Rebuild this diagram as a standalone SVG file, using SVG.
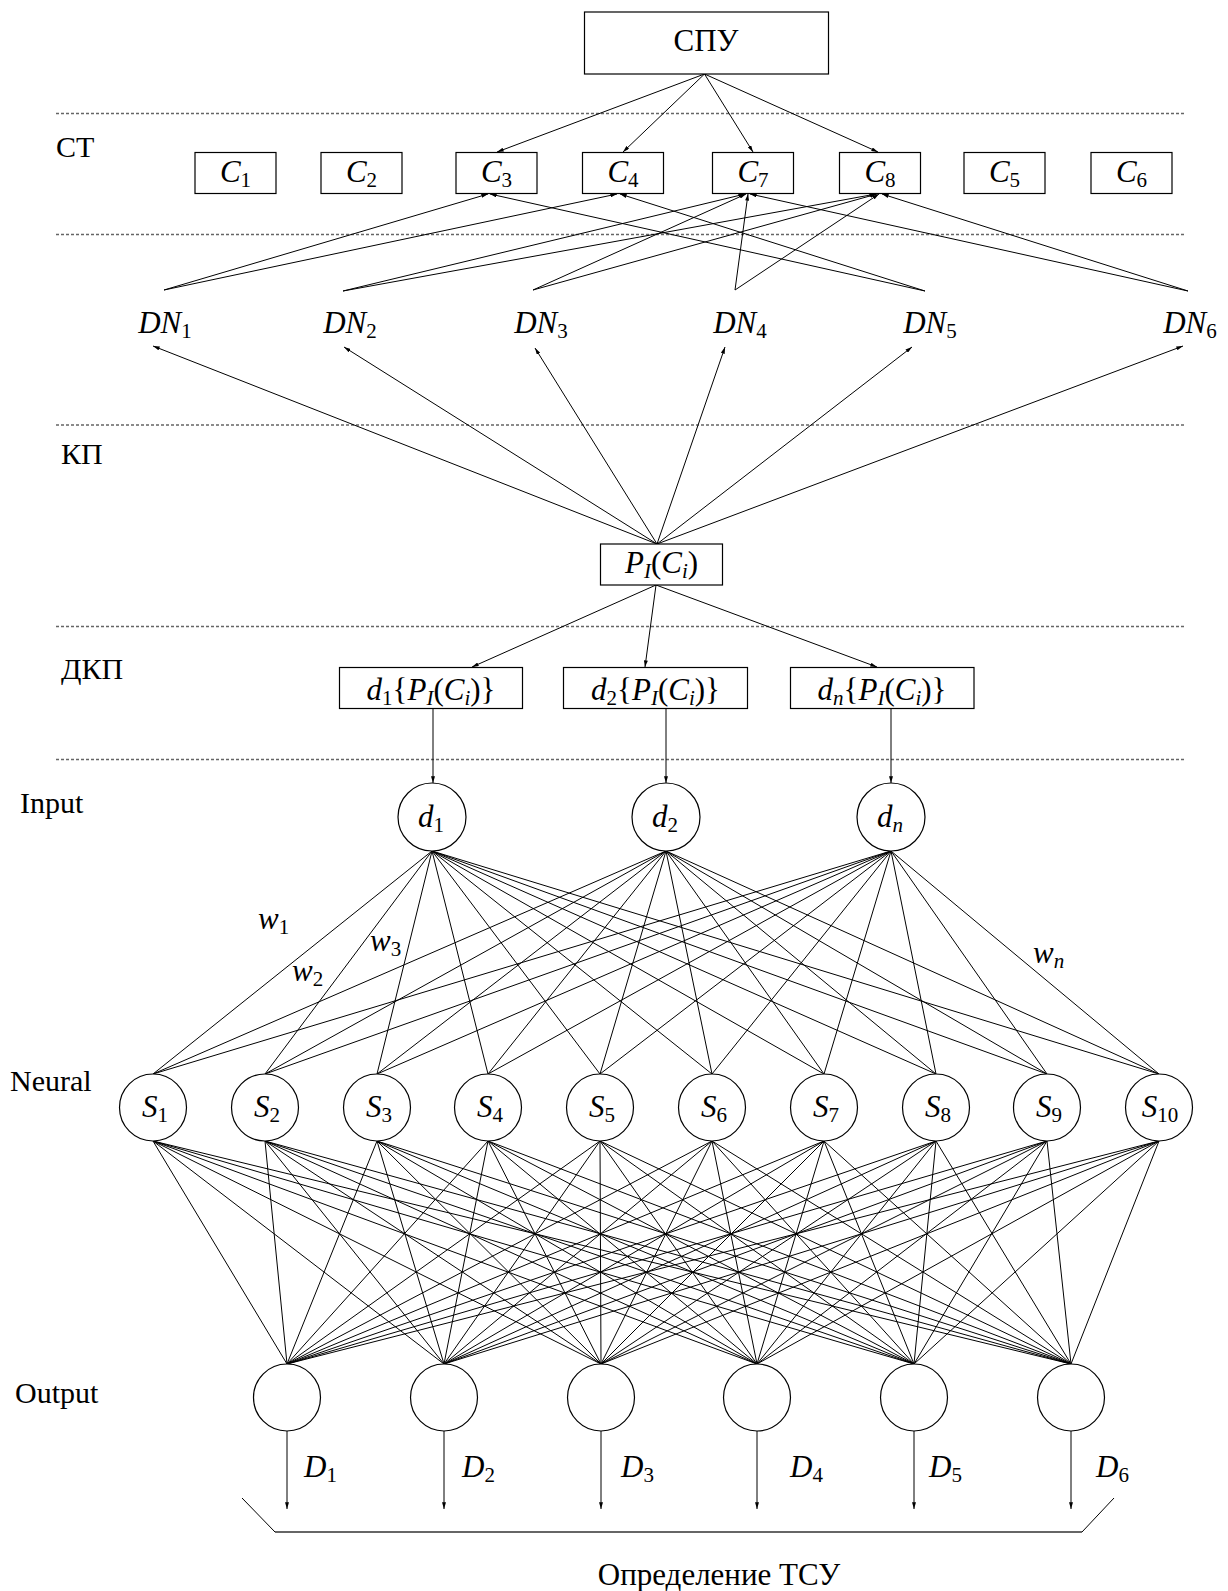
<svg xmlns="http://www.w3.org/2000/svg" width="1228" height="1591" viewBox="0 0 1228 1591">
<style>
.t{font-family:"Liberation Serif","Times New Roman",serif;font-size:31px;fill:#000}
.m{text-anchor:middle}
.i{font-style:italic}
.n{font-style:normal}
.s{font-size:21px;font-style:normal}
.si{font-size:21px;font-style:italic}
.box{fill:#fff;stroke:#000;stroke-width:1.2}
.circ{fill:#fff;stroke:#000;stroke-width:1.2}
.dash{stroke:#666;stroke-width:1.3;stroke-dasharray:3 2;fill:none}
.c line{stroke:#000;stroke-width:1}
.a{marker-end:url(#arr)}
</style>
<defs>
<marker id="arr" viewBox="0 0 10 6" refX="10" refY="3" markerWidth="7" markerHeight="4" orient="auto" markerUnits="userSpaceOnUse"><path d="M0,0 L10,3 L0,6 z" fill="#000"/></marker>
</defs>
<rect width="1228" height="1591" fill="#fff"/>
<g id="separators">
<line class="dash" x1="56" y1="113.5" x2="1186" y2="113.5"/>
<line class="dash" x1="56" y1="234.5" x2="1186" y2="234.5"/>
<line class="dash" x1="56" y1="425" x2="1186" y2="425"/>
<line class="dash" x1="56" y1="626.5" x2="1186" y2="626.5"/>
<line class="dash" x1="56" y1="759.5" x2="1186" y2="759.5"/>
</g>
<g id="layer-labels" class="t">
<text x="56" y="157" font-size="30">СТ</text>
<text x="61" y="464" font-size="30">КП</text>
<text x="61" y="679" font-size="30">ДКП</text>
<text x="20" y="813" font-size="30">Input</text>
<text x="10" y="1091" font-size="30">Neural</text>
<text x="15" y="1403" font-size="30">Output</text>
</g>
<g id="connectors" class="c">
<!-- SPU to C -->
<line class="a" x1="704.5" y1="74" x2="497" y2="152"/>
<line class="a" x1="704.5" y1="74" x2="623" y2="152"/>
<line class="a" x1="704.5" y1="74" x2="753" y2="152"/>
<line class="a" x1="704.5" y1="74" x2="878" y2="152"/>
<!-- DN to C -->
<line class="a" x1="164" y1="290" x2="488" y2="194"/>
<line class="a" x1="164" y1="290" x2="617" y2="194"/>
<line class="a" x1="925" y1="291" x2="490" y2="194"/>
<line class="a" x1="925" y1="291" x2="620" y2="194"/>
<line class="a" x1="343" y1="291" x2="745" y2="194"/>
<line class="a" x1="343" y1="291" x2="876" y2="194"/>
<line class="a" x1="533" y1="290" x2="746" y2="194"/>
<line class="a" x1="533" y1="290" x2="877" y2="194"/>
<line class="a" x1="735" y1="290" x2="748" y2="194"/>
<line class="a" x1="735" y1="290" x2="879" y2="194"/>
<line class="a" x1="1188" y1="291" x2="750" y2="194"/>
<line class="a" x1="1188" y1="291" x2="882" y2="194"/>
<!-- PI to DN -->
<line class="a" x1="657" y1="544" x2="153" y2="346"/>
<line class="a" x1="657" y1="544" x2="344" y2="347"/>
<line class="a" x1="657" y1="544" x2="535" y2="348"/>
<line class="a" x1="657" y1="544" x2="725" y2="347"/>
<line class="a" x1="657" y1="544" x2="912" y2="347"/>
<line class="a" x1="657" y1="544" x2="1183" y2="346"/>
<!-- PI to d boxes -->
<line class="a" x1="656" y1="585" x2="472" y2="667"/>
<line class="a" x1="656" y1="585" x2="645" y2="667"/>
<line class="a" x1="656" y1="585" x2="877" y2="667"/>
<!-- d boxes to input -->
<line class="a" x1="433" y1="708" x2="433" y2="783"/>
<line class="a" x1="666" y1="708" x2="666" y2="783"/>
<line class="a" x1="891" y1="708" x2="891" y2="783"/>
<!-- input to neural -->
<line x1="432" y1="851" x2="153" y2="1074"/><line x1="432" y1="851" x2="265" y2="1074"/><line x1="432" y1="851" x2="377" y2="1074"/><line x1="432" y1="851" x2="488" y2="1074"/><line x1="432" y1="851" x2="600" y2="1074"/><line x1="432" y1="851" x2="712" y2="1074"/><line x1="432" y1="851" x2="824" y2="1074"/><line x1="432" y1="851" x2="936" y2="1074"/><line x1="432" y1="851" x2="1047" y2="1074"/><line x1="432" y1="851" x2="1159" y2="1074"/>
<line x1="666" y1="851" x2="153" y2="1074"/><line x1="666" y1="851" x2="265" y2="1074"/><line x1="666" y1="851" x2="377" y2="1074"/><line x1="666" y1="851" x2="488" y2="1074"/><line x1="666" y1="851" x2="600" y2="1074"/><line x1="666" y1="851" x2="712" y2="1074"/><line x1="666" y1="851" x2="824" y2="1074"/><line x1="666" y1="851" x2="936" y2="1074"/><line x1="666" y1="851" x2="1047" y2="1074"/><line x1="666" y1="851" x2="1159" y2="1074"/>
<line x1="891" y1="851" x2="153" y2="1074"/><line x1="891" y1="851" x2="265" y2="1074"/><line x1="891" y1="851" x2="377" y2="1074"/><line x1="891" y1="851" x2="488" y2="1074"/><line x1="891" y1="851" x2="600" y2="1074"/><line x1="891" y1="851" x2="712" y2="1074"/><line x1="891" y1="851" x2="824" y2="1074"/><line x1="891" y1="851" x2="936" y2="1074"/><line x1="891" y1="851" x2="1047" y2="1074"/><line x1="891" y1="851" x2="1159" y2="1074"/>
<!-- neural to output -->
<line x1="153" y1="1141" x2="287" y2="1364"/><line x1="153" y1="1141" x2="444" y2="1364"/><line x1="153" y1="1141" x2="601" y2="1364"/><line x1="153" y1="1141" x2="757" y2="1364"/><line x1="153" y1="1141" x2="914" y2="1364"/><line x1="153" y1="1141" x2="1071" y2="1364"/>
<line x1="265" y1="1141" x2="287" y2="1364"/><line x1="265" y1="1141" x2="444" y2="1364"/><line x1="265" y1="1141" x2="601" y2="1364"/><line x1="265" y1="1141" x2="757" y2="1364"/><line x1="265" y1="1141" x2="914" y2="1364"/><line x1="265" y1="1141" x2="1071" y2="1364"/>
<line x1="377" y1="1141" x2="287" y2="1364"/><line x1="377" y1="1141" x2="444" y2="1364"/><line x1="377" y1="1141" x2="601" y2="1364"/><line x1="377" y1="1141" x2="757" y2="1364"/><line x1="377" y1="1141" x2="914" y2="1364"/><line x1="377" y1="1141" x2="1071" y2="1364"/>
<line x1="488" y1="1141" x2="287" y2="1364"/><line x1="488" y1="1141" x2="444" y2="1364"/><line x1="488" y1="1141" x2="601" y2="1364"/><line x1="488" y1="1141" x2="757" y2="1364"/><line x1="488" y1="1141" x2="914" y2="1364"/><line x1="488" y1="1141" x2="1071" y2="1364"/>
<line x1="600" y1="1141" x2="287" y2="1364"/><line x1="600" y1="1141" x2="444" y2="1364"/><line x1="600" y1="1141" x2="601" y2="1364"/><line x1="600" y1="1141" x2="757" y2="1364"/><line x1="600" y1="1141" x2="914" y2="1364"/><line x1="600" y1="1141" x2="1071" y2="1364"/>
<line x1="712" y1="1141" x2="287" y2="1364"/><line x1="712" y1="1141" x2="444" y2="1364"/><line x1="712" y1="1141" x2="601" y2="1364"/><line x1="712" y1="1141" x2="757" y2="1364"/><line x1="712" y1="1141" x2="914" y2="1364"/><line x1="712" y1="1141" x2="1071" y2="1364"/>
<line x1="824" y1="1141" x2="287" y2="1364"/><line x1="824" y1="1141" x2="444" y2="1364"/><line x1="824" y1="1141" x2="601" y2="1364"/><line x1="824" y1="1141" x2="757" y2="1364"/><line x1="824" y1="1141" x2="914" y2="1364"/><line x1="824" y1="1141" x2="1071" y2="1364"/>
<line x1="936" y1="1141" x2="287" y2="1364"/><line x1="936" y1="1141" x2="444" y2="1364"/><line x1="936" y1="1141" x2="601" y2="1364"/><line x1="936" y1="1141" x2="757" y2="1364"/><line x1="936" y1="1141" x2="914" y2="1364"/><line x1="936" y1="1141" x2="1071" y2="1364"/>
<line x1="1047" y1="1141" x2="287" y2="1364"/><line x1="1047" y1="1141" x2="444" y2="1364"/><line x1="1047" y1="1141" x2="601" y2="1364"/><line x1="1047" y1="1141" x2="757" y2="1364"/><line x1="1047" y1="1141" x2="914" y2="1364"/><line x1="1047" y1="1141" x2="1071" y2="1364"/>
<line x1="1159" y1="1141" x2="287" y2="1364"/><line x1="1159" y1="1141" x2="444" y2="1364"/><line x1="1159" y1="1141" x2="601" y2="1364"/><line x1="1159" y1="1141" x2="757" y2="1364"/><line x1="1159" y1="1141" x2="914" y2="1364"/><line x1="1159" y1="1141" x2="1071" y2="1364"/>
<!-- outputs -->
<line class="a" x1="287" y1="1431" x2="287" y2="1509"/>
<line class="a" x1="444" y1="1431" x2="444" y2="1509"/>
<line class="a" x1="601" y1="1431" x2="601" y2="1509"/>
<line class="a" x1="757" y1="1431" x2="757" y2="1509"/>
<line class="a" x1="914" y1="1431" x2="914" y2="1509"/>
<line class="a" x1="1071" y1="1431" x2="1071" y2="1509"/>
</g>
<g id="spu"><rect class="box" x="584.5" y="12" width="244" height="62"/><text class="t m" x="706" y="51">СПУ</text></g>
<g id="c1"><rect class="box" x="195" y="152.5" width="81" height="41"/><text class="t m i" x="235.5" y="182">C<tspan class="s" dy="5">1</tspan></text></g>
<g id="c2"><rect class="box" x="321" y="152.5" width="81" height="41"/><text class="t m i" x="361.5" y="182">C<tspan class="s" dy="5">2</tspan></text></g>
<g id="c3"><rect class="box" x="456" y="152.5" width="81" height="41"/><text class="t m i" x="496.5" y="182">C<tspan class="s" dy="5">3</tspan></text></g>
<g id="c4"><rect class="box" x="582.5" y="152.5" width="81" height="41"/><text class="t m i" x="623" y="182">C<tspan class="s" dy="5">4</tspan></text></g>
<g id="c7"><rect class="box" x="712.5" y="152.5" width="81" height="41"/><text class="t m i" x="753" y="182">C<tspan class="s" dy="5">7</tspan></text></g>
<g id="c8"><rect class="box" x="839.5" y="152.5" width="81" height="41"/><text class="t m i" x="880" y="182">C<tspan class="s" dy="5">8</tspan></text></g>
<g id="c5"><rect class="box" x="964" y="152.5" width="81" height="41"/><text class="t m i" x="1004.5" y="182">C<tspan class="s" dy="5">5</tspan></text></g>
<g id="c6"><rect class="box" x="1091" y="152.5" width="81" height="41"/><text class="t m i" x="1131.5" y="182">C<tspan class="s" dy="5">6</tspan></text></g>
<g id="dn1"><text class="t m i" x="165" y="333">DN<tspan class="s" dy="5">1</tspan></text></g>
<g id="dn2"><text class="t m i" x="350" y="333">DN<tspan class="s" dy="5">2</tspan></text></g>
<g id="dn3"><text class="t m i" x="541" y="333">DN<tspan class="s" dy="5">3</tspan></text></g>
<g id="dn4"><text class="t m i" x="740" y="333">DN<tspan class="s" dy="5">4</tspan></text></g>
<g id="dn5"><text class="t m i" x="930" y="333">DN<tspan class="s" dy="5">5</tspan></text></g>
<g id="dn6"><text class="t m i" x="1190" y="333">DN<tspan class="s" dy="5">6</tspan></text></g>
<g id="pi"><rect class="box" x="600.5" y="544" width="122" height="41"/><text class="t m i" x="661.5" y="573">P<tspan class="si" dy="5">I</tspan><tspan class="n" dy="-5">(</tspan>C<tspan class="si" dy="5">i</tspan><tspan class="n" dy="-5">)</tspan></text></g>
<g id="dk1"><rect class="box" x="339.5" y="667.5" width="183" height="41"/><text class="t m i" x="431" y="700">d<tspan class="s" dy="5">1</tspan><tspan class="n" dy="-5">{</tspan>P<tspan class="si" dy="5">I</tspan><tspan class="n" dy="-5">(</tspan>C<tspan class="si" dy="5">i</tspan><tspan class="n" dy="-5">)}</tspan></text></g>
<g id="dk2"><rect class="box" x="563.5" y="667.5" width="184" height="41"/><text class="t m i" x="655.5" y="700">d<tspan class="s" dy="5">2</tspan><tspan class="n" dy="-5">{</tspan>P<tspan class="si" dy="5">I</tspan><tspan class="n" dy="-5">(</tspan>C<tspan class="si" dy="5">i</tspan><tspan class="n" dy="-5">)}</tspan></text></g>
<g id="dkn"><rect class="box" x="790.5" y="667.5" width="183.5" height="41"/><text class="t m i" x="882" y="700">d<tspan class="si" dy="5">n</tspan><tspan class="n" dy="-5">{</tspan>P<tspan class="si" dy="5">I</tspan><tspan class="n" dy="-5">(</tspan>C<tspan class="si" dy="5">i</tspan><tspan class="n" dy="-5">)}</tspan></text></g>
<g id="in1"><circle class="circ" cx="432" cy="817" r="34"/><text class="t m i" x="431" y="827">d<tspan class="s" dy="5">1</tspan></text></g>
<g id="in2"><circle class="circ" cx="666" cy="817" r="34"/><text class="t m i" x="665" y="827">d<tspan class="s" dy="5">2</tspan></text></g>
<g id="inn"><circle class="circ" cx="891" cy="817" r="34"/><text class="t m i" x="890" y="827">d<tspan class="si" dy="5">n</tspan></text></g>
<g id="weights" class="t i">
<text x="258" y="929">w<tspan class="s" dy="5">1</tspan></text>
<text x="292" y="981">w<tspan class="s" dy="5">2</tspan></text>
<text x="370" y="951">w<tspan class="s" dy="5">3</tspan></text>
<text x="1033" y="963">w<tspan class="si" dy="5">n</tspan></text>
</g>
<g id="s1"><circle class="circ" cx="153" cy="1107.5" r="33.5"/><text class="t m i" x="155" y="1117">S<tspan class="s" dy="5">1</tspan></text></g>
<g id="s2"><circle class="circ" cx="265" cy="1107.5" r="33.5"/><text class="t m i" x="267" y="1117">S<tspan class="s" dy="5">2</tspan></text></g>
<g id="s3"><circle class="circ" cx="377" cy="1107.5" r="33.5"/><text class="t m i" x="379" y="1117">S<tspan class="s" dy="5">3</tspan></text></g>
<g id="s4"><circle class="circ" cx="488" cy="1107.5" r="33.5"/><text class="t m i" x="490" y="1117">S<tspan class="s" dy="5">4</tspan></text></g>
<g id="s5"><circle class="circ" cx="600" cy="1107.5" r="33.5"/><text class="t m i" x="602" y="1117">S<tspan class="s" dy="5">5</tspan></text></g>
<g id="s6"><circle class="circ" cx="712" cy="1107.5" r="33.5"/><text class="t m i" x="714" y="1117">S<tspan class="s" dy="5">6</tspan></text></g>
<g id="s7"><circle class="circ" cx="824" cy="1107.5" r="33.5"/><text class="t m i" x="826" y="1117">S<tspan class="s" dy="5">7</tspan></text></g>
<g id="s8"><circle class="circ" cx="936" cy="1107.5" r="33.5"/><text class="t m i" x="938" y="1117">S<tspan class="s" dy="5">8</tspan></text></g>
<g id="s9"><circle class="circ" cx="1047" cy="1107.5" r="33.5"/><text class="t m i" x="1049" y="1117">S<tspan class="s" dy="5">9</tspan></text></g>
<g id="s10"><circle class="circ" cx="1159" cy="1107.5" r="33.5"/><text class="t m i" x="1160" y="1117">S<tspan class="s" dy="5">10</tspan></text></g>
<g id="o1"><circle class="circ" cx="287" cy="1397.5" r="33.5"/></g>
<g id="o2"><circle class="circ" cx="444" cy="1397.5" r="33.5"/></g>
<g id="o3"><circle class="circ" cx="601" cy="1397.5" r="33.5"/></g>
<g id="o4"><circle class="circ" cx="757" cy="1397.5" r="33.5"/></g>
<g id="o5"><circle class="circ" cx="914" cy="1397.5" r="33.5"/></g>
<g id="o6"><circle class="circ" cx="1071" cy="1397.5" r="33.5"/></g>
<g id="outputs" class="t i">
<text x="304" y="1477">D<tspan class="s" dy="5">1</tspan></text>
<text x="462" y="1477">D<tspan class="s" dy="5">2</tspan></text>
<text x="621" y="1477">D<tspan class="s" dy="5">3</tspan></text>
<text x="790" y="1477">D<tspan class="s" dy="5">4</tspan></text>
<text x="929" y="1477">D<tspan class="s" dy="5">5</tspan></text>
<text x="1096" y="1477">D<tspan class="s" dy="5">6</tspan></text>
</g>
<g id="result">
<path d="M242,1498 L275,1532" stroke="#000" stroke-width="1" fill="none"/>
<path d="M1114,1498 L1082,1532" stroke="#000" stroke-width="1" fill="none"/>
<line x1="275" y1="1532" x2="1082" y2="1532" stroke="#666" stroke-width="2"/>
<text class="t m" x="719" y="1585">Определение ТСУ</text>
</g>
</svg>
